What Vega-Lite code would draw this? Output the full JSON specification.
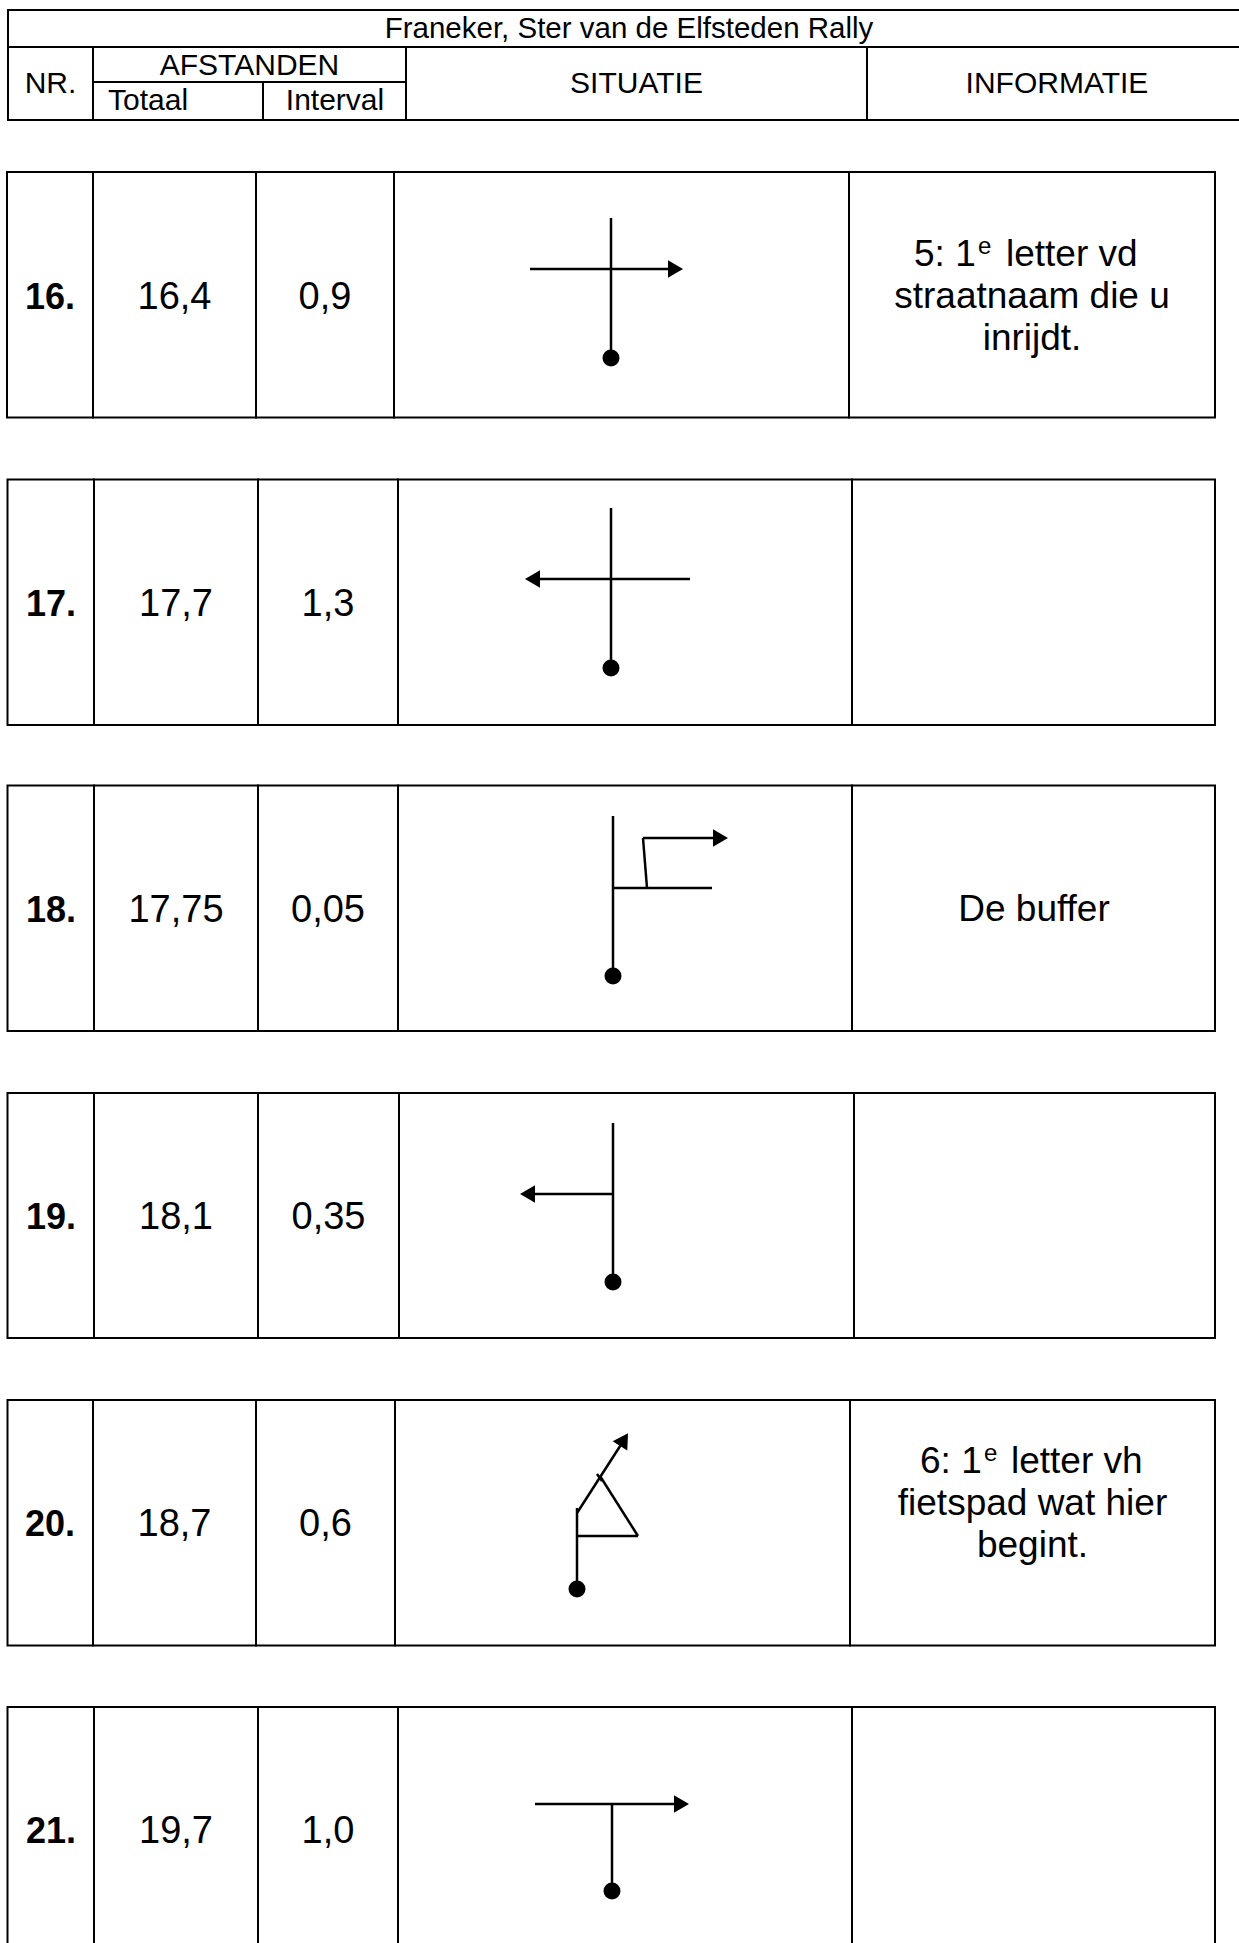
{
  "$schema": "https://vega.github.io/schema/vega-lite/v6.json",
  "autosize": {"type": "fit", "contains": "padding"},
  "width": 1239,
  "height": 1943,
  "padding": 0,
  "background": "white",
  "config": {"view": {"stroke": null}, "text": {"font": "Liberation Sans", "color": "black"}},
  "datasets": {
    "cells": [
      {"x": 8, "x2": 1250, "y": 10, "y2": 47},
      {"x": 8, "x2": 93, "y": 47, "y2": 120},
      {"x": 93, "x2": 406, "y": 47, "y2": 82},
      {"x": 93, "x2": 263, "y": 82, "y2": 120},
      {"x": 263, "x2": 406, "y": 82, "y2": 120},
      {"x": 406, "x2": 867, "y": 47, "y2": 120},
      {"x": 867, "x2": 1250, "y": 47, "y2": 120},
      {"x": 7, "x2": 93, "y": 172, "y2": 417.5},
      {"x": 93, "x2": 256, "y": 172, "y2": 417.5},
      {"x": 256, "x2": 394, "y": 172, "y2": 417.5},
      {"x": 394, "x2": 849, "y": 172, "y2": 417.5},
      {"x": 849, "x2": 1215, "y": 172, "y2": 417.5},
      {"x": 7.5, "x2": 94, "y": 479.5, "y2": 725},
      {"x": 94, "x2": 258, "y": 479.5, "y2": 725},
      {"x": 258, "x2": 398, "y": 479.5, "y2": 725},
      {"x": 398, "x2": 852, "y": 479.5, "y2": 725},
      {"x": 852, "x2": 1215, "y": 479.5, "y2": 725},
      {"x": 7.5, "x2": 94, "y": 785.5, "y2": 1031},
      {"x": 94, "x2": 258, "y": 785.5, "y2": 1031},
      {"x": 258, "x2": 398, "y": 785.5, "y2": 1031},
      {"x": 398, "x2": 852, "y": 785.5, "y2": 1031},
      {"x": 852, "x2": 1215, "y": 785.5, "y2": 1031},
      {"x": 7.5, "x2": 94, "y": 1093, "y2": 1338},
      {"x": 94, "x2": 258, "y": 1093, "y2": 1338},
      {"x": 258, "x2": 399, "y": 1093, "y2": 1338},
      {"x": 399, "x2": 854, "y": 1093, "y2": 1338},
      {"x": 854, "x2": 1215, "y": 1093, "y2": 1338},
      {"x": 7.5, "x2": 93, "y": 1400, "y2": 1645.5},
      {"x": 93, "x2": 256, "y": 1400, "y2": 1645.5},
      {"x": 256, "x2": 395, "y": 1400, "y2": 1645.5},
      {"x": 395, "x2": 850, "y": 1400, "y2": 1645.5},
      {"x": 850, "x2": 1215, "y": 1400, "y2": 1645.5},
      {"x": 7.5, "x2": 94, "y": 1707, "y2": 1960},
      {"x": 94, "x2": 258, "y": 1707, "y2": 1960},
      {"x": 258, "x2": 398, "y": 1707, "y2": 1960},
      {"x": 398, "x2": 852, "y": 1707, "y2": 1960},
      {"x": 852, "x2": 1215, "y": 1707, "y2": 1960}
    ],
    "roads": [
      {"x": 611, "y": 218, "x2": 611, "y2": 358},
      {"x": 530, "y": 269, "x2": 680, "y2": 269},
      {"x": 611, "y": 508, "x2": 611, "y2": 668},
      {"x": 530, "y": 579, "x2": 690, "y2": 579},
      {"x": 613, "y": 816, "x2": 613, "y2": 976},
      {"x": 613, "y": 888, "x2": 712, "y2": 888},
      {"x": 647, "y": 888, "x2": 643, "y2": 838},
      {"x": 643, "y": 838, "x2": 722, "y2": 838},
      {"x": 613, "y": 1123, "x2": 613, "y2": 1282},
      {"x": 613, "y": 1194, "x2": 526, "y2": 1194},
      {"x": 577, "y": 1508, "x2": 577, "y2": 1589},
      {"x": 577, "y": 1536, "x2": 638, "y2": 1536},
      {"x": 638, "y": 1536, "x2": 600, "y2": 1476},
      {"x": 577, "y": 1513, "x2": 624, "y2": 1440},
      {"x": 597, "y": 1474, "x2": 602, "y2": 1481},
      {"x": 535, "y": 1804, "x2": 684, "y2": 1804},
      {"x": 612, "y": 1804, "x2": 612, "y2": 1891}
    ],
    "dots": [
      {"x": 611, "y": 358},
      {"x": 611, "y": 668},
      {"x": 613, "y": 976},
      {"x": 613, "y": 1282},
      {"x": 577, "y": 1589},
      {"x": 612, "y": 1891}
    ],
    "arrows": [
      {"x": 675.5, "y": 269, "a": 90},
      {"x": 532.5, "y": 579, "a": 270},
      {"x": 720.5, "y": 838, "a": 90},
      {"x": 527.5, "y": 1194, "a": 270},
      {"x": 624, "y": 1439.5, "a": 32.5},
      {"x": 681.5, "y": 1804, "a": 90}
    ],
    "title": [
      {"x": 629, "y": 38, "t": "Franeker, Ster van de Elfsteden Rally"}
    ],
    "heads": [
      {"x": 50.5, "y": 93, "t": "NR."},
      {"x": 249.5, "y": 75, "t": "AFSTANDEN"},
      {"x": 335, "y": 110, "t": "Interval"},
      {"x": 636.5, "y": 93, "t": "SITUATIE"},
      {"x": 1057, "y": 93, "t": "INFORMATIE"}
    ],
    "headsLeft": [
      {"x": 108, "y": 110, "t": "Totaal"}
    ],
    "nrs": [
      {"x": 50, "y": 309, "t": "16."},
      {"x": 51, "y": 616, "t": "17."},
      {"x": 51, "y": 922, "t": "18."},
      {"x": 51, "y": 1229, "t": "19."},
      {"x": 50, "y": 1536, "t": "20."},
      {"x": 51, "y": 1843, "t": "21."}
    ],
    "nums": [
      {"x": 174.5, "y": 309, "t": "16,4"},
      {"x": 325, "y": 309, "t": "0,9"},
      {"x": 176, "y": 616, "t": "17,7"},
      {"x": 328, "y": 616, "t": "1,3"},
      {"x": 176, "y": 922, "t": "17,75"},
      {"x": 328, "y": 922, "t": "0,05"},
      {"x": 176, "y": 1229, "t": "18,1"},
      {"x": 328.5, "y": 1229, "t": "0,35"},
      {"x": 174.5, "y": 1536, "t": "18,7"},
      {"x": 325.5, "y": 1536, "t": "0,6"},
      {"x": 176, "y": 1843, "t": "19,7"},
      {"x": 328, "y": 1843, "t": "1,0"}
    ],
    "info": [
      {"x": 1032, "y": 308, "t": "straatnaam die u"},
      {"x": 1032, "y": 350, "t": "inrijdt."},
      {"x": 1034, "y": 921, "t": "De buffer"},
      {"x": 1032.5, "y": 1514.5, "t": "fietspad wat hier"},
      {"x": 1032.5, "y": 1557, "t": "begint."}
    ],
    "infoLeft": [
      {"x": 914, "y": 266, "t": "5: 1"},
      {"x": 1006, "y": 266, "t": "letter vd"},
      {"x": 920, "y": 1472.5, "t": "6: 1"},
      {"x": 1011, "y": 1472.5, "t": "letter vh"}
    ],
    "sup": [
      {"x": 978, "y": 254, "t": "e"},
      {"x": 984, "y": 1460.5, "t": "e"}
    ]
  },
  "encoding": {
    "x": {"field": "x", "type": "quantitative", "scale": {"domain": [0, 1239], "nice": false, "zero": false}, "axis": null},
    "y": {"field": "y", "type": "quantitative", "scale": {"domain": [0, 1943], "reverse": true, "nice": false, "zero": false}, "axis": null}
  },
  "layer": [
    {
      "data": {"name": "cells"},
      "mark": {"type": "rect", "filled": false, "stroke": "black", "strokeWidth": 2, "clip": true},
      "encoding": {"x2": {"field": "x2"}, "y2": {"field": "y2"}}
    },
    {
      "data": {"name": "roads"},
      "mark": {"type": "rule", "color": "black", "strokeWidth": 2.5},
      "encoding": {"x2": {"field": "x2"}, "y2": {"field": "y2"}}
    },
    {
      "data": {"name": "dots"},
      "mark": {"type": "point", "shape": "circle", "filled": true, "color": "black", "size": 289, "opacity": 1},
      "encoding": {}
    },
    {
      "data": {"name": "arrows"},
      "mark": {"type": "point", "shape": "triangle-up", "filled": true, "color": "black", "size": 300, "opacity": 1},
      "encoding": {"angle": {"field": "a", "type": "quantitative", "scale": null}}
    },
    {
      "data": {"name": "title"},
      "mark": {"type": "text", "fontSize": 29.5, "align": "center", "baseline": "alphabetic"},
      "encoding": {"text": {"field": "t"}}
    },
    {
      "data": {"name": "heads"},
      "mark": {"type": "text", "fontSize": 30, "align": "center", "baseline": "alphabetic"},
      "encoding": {"text": {"field": "t"}}
    },
    {
      "data": {"name": "headsLeft"},
      "mark": {"type": "text", "fontSize": 30, "align": "left", "baseline": "alphabetic"},
      "encoding": {"text": {"field": "t"}}
    },
    {
      "data": {"name": "nrs"},
      "mark": {"type": "text", "fontSize": 36, "fontWeight": "bold", "align": "center", "baseline": "alphabetic"},
      "encoding": {"text": {"field": "t"}}
    },
    {
      "data": {"name": "nums"},
      "mark": {"type": "text", "fontSize": 38, "align": "center", "baseline": "alphabetic"},
      "encoding": {"text": {"field": "t"}}
    },
    {
      "data": {"name": "info"},
      "mark": {"type": "text", "fontSize": 37, "align": "center", "baseline": "alphabetic"},
      "encoding": {"text": {"field": "t"}}
    },
    {
      "data": {"name": "infoLeft"},
      "mark": {"type": "text", "fontSize": 37, "align": "left", "baseline": "alphabetic"},
      "encoding": {"text": {"field": "t"}}
    },
    {
      "data": {"name": "sup"},
      "mark": {"type": "text", "fontSize": 24, "align": "left", "baseline": "alphabetic"},
      "encoding": {"text": {"field": "t"}}
    }
  ]
}
